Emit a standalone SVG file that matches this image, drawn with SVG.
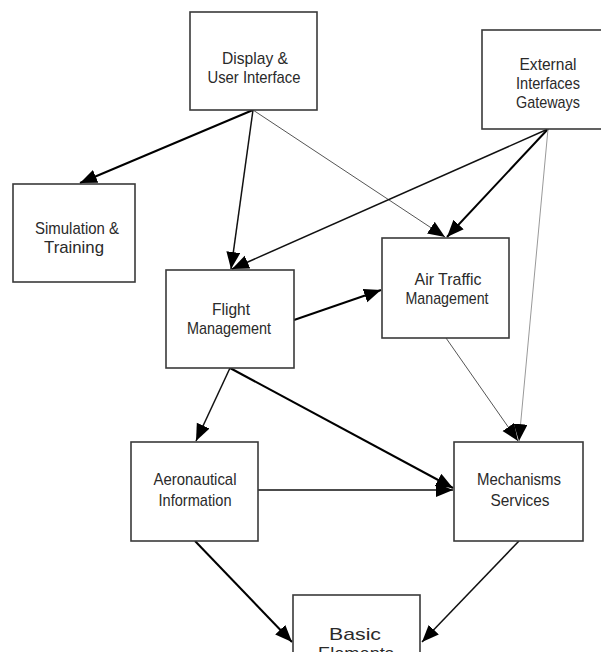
<svg xmlns="http://www.w3.org/2000/svg" width="601" height="652" viewBox="0 0 601 652">
<style>
.box{fill:#fff;stroke:#3a3a3a;stroke-width:1.6}
.t{font-family:"Liberation Sans",Arial,sans-serif;font-size:17px;fill:#2a2a2a;text-anchor:middle}
.c{fill:none;stroke:#000}
.w2{stroke-width:2}
.w15{stroke-width:1.5;stroke:#111}
.g1{stroke-width:1;stroke:#555}
.g2{stroke-width:1;stroke:#999}
</style>
<defs>
<marker id="ah" markerUnits="userSpaceOnUse" markerWidth="18" markerHeight="15" refX="17" refY="7" orient="auto">
<path d="M0,0 L17,7 L0,14 z" fill="#000"/>
</marker>
</defs>
<rect width="601" height="652" fill="#fff"/>
<g id="connectors">
<line class="c w2" x1="253" y1="110" x2="80" y2="183" marker-end="url(#ah)"/>
<line class="c w15" x1="253" y1="110" x2="231" y2="269" marker-end="url(#ah)"/>
<line class="c g1" x1="253" y1="110" x2="445" y2="237" marker-end="url(#ah)"/>
<line class="c w15" x1="548" y1="129" x2="232" y2="269" marker-end="url(#ah)"/>
<line class="c w2" x1="548" y1="129" x2="447" y2="237" marker-end="url(#ah)"/>
<line class="c g2" x1="548" y1="129" x2="519" y2="441" marker-end="url(#ah)"/>
<line class="c w2" x1="294" y1="320" x2="381" y2="290" marker-end="url(#ah)"/>
<line class="c g1" x1="446" y1="338" x2="518" y2="441" marker-end="url(#ah)"/>
<line class="c w15" x1="230" y1="368" x2="196" y2="441" marker-end="url(#ah)"/>
<line class="c w2" x1="230" y1="368" x2="453" y2="488" marker-end="url(#ah)"/>
<line class="c w15" x1="258" y1="490" x2="453" y2="490" marker-end="url(#ah)"/>
<line class="c w2" x1="195" y1="541" x2="292" y2="642" marker-end="url(#ah)"/>
<line class="c w15" x1="519" y1="541" x2="422" y2="642" marker-end="url(#ah)"/>
</g>
<g id="display">
<rect class="box" x="190" y="12" width="127" height="98"/>
<text class="t" x="255" y="64" textLength="66" lengthAdjust="spacingAndGlyphs">Display &amp;</text>
<text class="t" x="254" y="83" textLength="93" lengthAdjust="spacingAndGlyphs">User Interface</text>
</g>
<g id="external">
<rect class="box" x="482" y="30" width="132" height="99"/>
<text class="t" x="548" y="70" textLength="57" lengthAdjust="spacingAndGlyphs">External</text>
<text class="t" x="548" y="89" textLength="64" lengthAdjust="spacingAndGlyphs">Interfaces</text>
<text class="t" x="548" y="108" textLength="64" lengthAdjust="spacingAndGlyphs">Gateways</text>
</g>
<g id="simulation">
<rect class="box" x="13" y="184" width="122" height="98"/>
<text class="t" x="77" y="234" textLength="84" lengthAdjust="spacingAndGlyphs">Simulation &amp;</text>
<text class="t" x="74" y="253" textLength="60" lengthAdjust="spacingAndGlyphs">Training</text>
</g>
<g id="flight">
<rect class="box" x="166" y="270" width="128" height="98"/>
<text class="t" x="231" y="315" textLength="38" lengthAdjust="spacingAndGlyphs">Flight</text>
<text class="t" x="229" y="334" textLength="84" lengthAdjust="spacingAndGlyphs">Management</text>
</g>
<g id="atm">
<rect class="box" x="382" y="238" width="127" height="100"/>
<text class="t" x="448" y="285" textLength="67" lengthAdjust="spacingAndGlyphs">Air Traffic</text>
<text class="t" x="447" y="304" textLength="83" lengthAdjust="spacingAndGlyphs">Management</text>
</g>
<g id="aero">
<rect class="box" x="131" y="442" width="127" height="99"/>
<text class="t" x="195" y="485" textLength="83" lengthAdjust="spacingAndGlyphs">Aeronautical</text>
<text class="t" x="195" y="506" textLength="73" lengthAdjust="spacingAndGlyphs">Information</text>
</g>
<g id="mechanisms">
<rect class="box" x="454" y="442" width="129" height="99"/>
<text class="t" x="519" y="485" textLength="84" lengthAdjust="spacingAndGlyphs">Mechanisms</text>
<text class="t" x="520" y="506" textLength="59" lengthAdjust="spacingAndGlyphs">Services</text>
</g>
<g id="basic">
<rect class="box" x="293" y="595" width="127" height="80"/>
<text class="t" x="355" y="640" textLength="52" lengthAdjust="spacingAndGlyphs">Basic</text>
<text class="t" x="356" y="659" textLength="76" lengthAdjust="spacingAndGlyphs">Elements</text>
</g>
</svg>
